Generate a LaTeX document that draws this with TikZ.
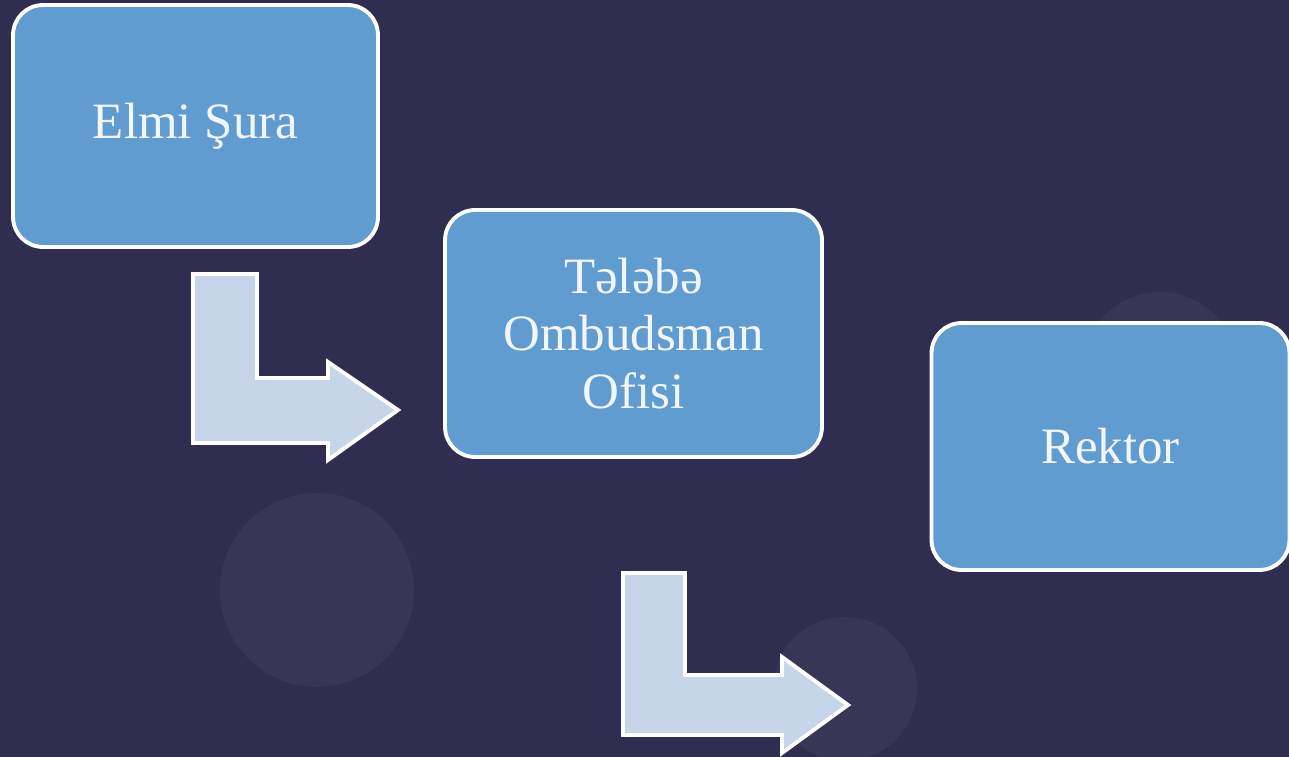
\documentclass[tikz,border=0pt]{standalone}
\usepackage{fontspec}
\setmainfont{Liberation Serif}
\definecolor{bgc}{HTML}{302E50}
\definecolor{circc}{HTML}{373657}
\definecolor{boxc}{HTML}{619CD1}
\definecolor{arrc}{HTML}{C6D5EA}
\definecolor{txtc}{HTML}{F2F6FA}
\begin{document}
\begin{tikzpicture}[x=0.02cm,y=-0.02cm,
  bluebox/.style={draw=white, line width=2.2pt, fill=boxc, rounded corners=0.6cm,
    text=txtc, align=center, font=\fontsize{29pt}{32.5pt}\selectfont, inner sep=0pt},
  bentarrow/.style={draw=white, line width=2.2pt, fill=arrc, line join=miter},
  glow/.style={fill=circc}]
% background
\fill[bgc] (0,0) rectangle (1289,757);
\useasboundingbox (0,0) rectangle (1289,757);
\fill[glow] (317,590) circle[radius=1.94cm];
\fill[glow] (845,689) circle[radius=1.44cm];
\fill[glow] (1160,370) circle[radius=1.56cm];
% boxes
\node[bluebox, minimum width=7.3cm, minimum height=4.84cm] (elmi) at (195.5,126) {\raisebox{-0.1cm}{Elmi Şura}};
\node[bluebox, minimum width=7.54cm, minimum height=4.94cm] (ombud) at (633.5,333.5) {Tələbə\\Ombudsman\\Ofisi};
\node[bluebox, minimum width=7.16cm, minimum height=4.94cm] (rektor) at (1110.5,446.5) {Rektor};
% bent arrows
\coordinate (a1) at (193,274);
\coordinate (a2) at (623,573);
\draw[bentarrow] (a1) -- ++(64,0) -- ++(0,104) -- ++(71,0) -- ++(0,-16) -- ++(70,48)
  -- ++(-70,50) -- ++(0,-17) -- ++(-135,0) -- cycle;
\draw[bentarrow] (a2) -- ++(62,0) -- ++(0,102) -- ++(97,0) -- ++(0,-18) -- ++(66,48)
  -- ++(-66,48) -- ++(0,-18) -- ++(-159,0) -- cycle;
\end{tikzpicture}
\end{document}
